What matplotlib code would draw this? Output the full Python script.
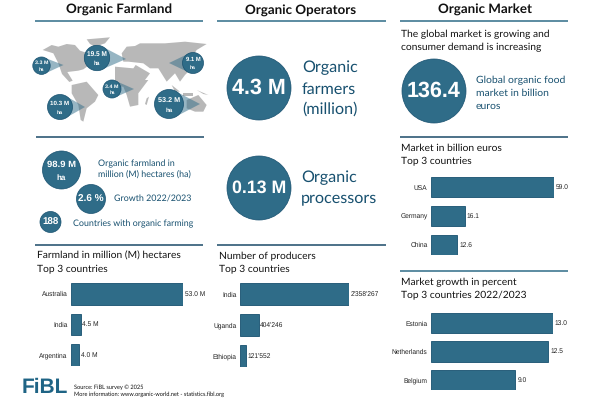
import matplotlib
matplotlib.use('Agg')
import matplotlib.pyplot as plt
from matplotlib.patches import Circle, Polygon

plt.rcParams['text.hinting'] = 'no_hinting'

TEAL = '#2f6c88'
DARK = '#17506f'
RULE = '#1b4a68'
GILL = 'Lato'
HELV = 'Liberation Sans'

# bar chart data
farm_countries = ['Australia', 'India', 'Argentina']
farm_values = [53.0, 4.5, 4.0]
farm_labels = ['53.0 M', '4.5 M', '4.0 M']

prod_countries = ['India', 'Uganda', 'Ethiopia']
prod_values = [2358267, 404246, 121552]
prod_labels = ["2'358'267", "404'246", "121'552"]

market_countries = ['USA', 'Germany', 'China']
market_values = [59.0, 16.1, 12.6]
market_labels = ['59.0', '16.1', '12.6']

growth_countries = ['Estonia', 'Netherlands', 'Belgium']
growth_values = [13.0, 12.5, 9.0]
growth_labels = ['13.0', '12.5', '9.0']

fig = plt.figure(figsize=(6, 4), dpi=100)
bg = fig.add_axes([0, 0, 1, 1])
bg.set_xlim(0, 600)
bg.set_ylim(400, 0)
bg.axis('off')


def rule(x0, x1, y, color=RULE):
    bg.plot([x0, x1], [y, y], color=color, lw=1.1, solid_capstyle='butt')


def bubble(x, y, r, lines, size):
    bg.add_patch(Circle((x, y), r, fc=TEAL, ec=DARK, lw=0.5, zorder=5))
    if len(lines) == 1:
        bg.text(x, y, lines[0], color='white', fontsize=size, fontweight='bold',
                family=HELV, ha='center', va='center', zorder=6)
    else:
        bg.text(x, y - r * 0.3, lines[0], color='white', fontsize=size, fontweight='bold',
                family=HELV, ha='center', va='center', zorder=6)
        bg.text(x, y + r * 0.42, lines[1], color='white', fontsize=size * 0.85, fontweight='bold',
                family=HELV, ha='center', va='center', zorder=6)


def label(x, y, s, size, color=DARK, **kw):
    bg.text(x, y, s, fontsize=size, color=color, family=GILL, va='center', **kw)


# headers
for cx, title in [(119, 'Organic Farmland'), (301, 'Organic Operators'), (485, 'Organic Market')]:
    bg.text(cx, 10, title, fontsize=9.6, fontweight='bold', family=GILL, color='#111111',
            ha='center', va='center')

for x0, x1 in [(35, 203), (217, 386), (400, 568)]:
    rule(x0, x1, 20.5, TEAL)
rule(36, 204, 136.5)
rule(35, 203, 245)
rule(217, 386, 245)
rule(400, 568, 136.5)
rule(400, 568, 271, TEAL)

# world map, hand traced outlines: west half and east half
west_shapes = [
    [(38, 60), (65, 45), (85, 50), (110, 42), (135, 45), (150, 62), (190, 75), (185, 100), (160, 118),
     (145, 122), (112, 126), (128, 152), (118, 156), (96, 132), (85, 100), (70, 70)],
    [(170, 28), (240, 22), (225, 40), (195, 50), (180, 42)],
    [(125, 165), (170, 155), (205, 195), (195, 215), (170, 235), (160, 275), (152, 270), (145, 225), (125, 190)],
]
east_shapes = [
    [(20, 70), (35, 50), (60, 48), (75, 40), (150, 40), (210, 35), (275, 42), (245, 60), (235, 75), (225, 120),
     (210, 135), (195, 155), (180, 130), (155, 155), (130, 115), (105, 115), (85, 100), (40, 95), (25, 95)],
    [(0, 110), (55, 115), (62, 105), (105, 130), (90, 150), (100, 150), (70, 190), (70, 225), (45, 230),
     (35, 195), (25, 170), (0, 170)],
    [(215, 210), (250, 195), (275, 225), (265, 245), (240, 245), (215, 235)],
    [(95, 205), (102, 200), (95, 225), (90, 222)],
    [(170, 165), (195, 185), (180, 185)],
    [(205, 190), (235, 190), (235, 197), (205, 197)],
    [(245, 180), (280, 195), (265, 192)],
]
for shape in west_shapes:
    bg.add_patch(Polygon([(30 + px / 3, 30 + py / 3) for px, py in shape], fc='#b8b8b8', ec='none', zorder=1))
for shape in east_shapes:
    bg.add_patch(Polygon([(115 + px / 3, 30 + py / 3) for px, py in shape], fc='#b8b8b8', ec='none', zorder=1))

# callouts
callouts = [
    (41.5, 65.7, 8.7, 63.5, 65, ['3.3 M', 'ha'], 3.9),
    (97, 58, 12.7, 126, 59, ['19.5 M', 'ha'], 4.7),
    (193, 63, 10.5, 169, 63, ['9.1 M', 'ha'], 4.2),
    (112, 89, 9, 134, 89, ['3.4 M', 'ha'], 3.9),
    (60, 107, 12.5, 85, 107, ['10.3 M', 'ha'], 4.5),
    (169, 104, 14.5, 200, 104, ['53.2 M', 'ha'], 5.2),
]
for cx, cy, r, tx, ty, txt, sz in callouts:
    sign = 1 if tx > cx else -1
    bg.add_patch(Polygon([(cx + sign * r * 0.45, cy - r * 0.88), (tx, ty), (cx + sign * r * 0.45, cy + r * 0.88)],
                         fc=TEAL, ec='none', alpha=0.5, zorder=3))
    bubble(cx, cy, r, txt, sz)

# stats of the left column
bubble(61.5, 170, 19, ['98.9 M', 'ha'], 6.8)
bubble(91, 199, 14.5, ['2.6 %'], 7.2)
bubble(50.5, 222, 10.5, ['188'], 7.0)
label(97.5, 164, 'Organic farmland in', 6.4)
label(97.5, 175, 'million (M) hectares (ha)', 6.4)
label(114, 199, 'Growth 2022/2023', 6.4)
label(73, 224, 'Countries with organic farming', 6.4)

# operators
bubble(259, 88, 32, ['4.3 M'], 15.5)
bubble(259, 188, 32, ['0.13 M'], 12.8)
for y, s in [(68, 'Organic'), (89, 'farmers'), (109, '(million)')]:
    label(302, y, s, 11.6)
for y, s in [(178, 'Organic'), (199, 'processors')]:
    label(301, y, s, 11.6)

# market
label(401, 34, 'The global market is growing and', 7.35, color='#111111')
label(401, 47, 'consumer demand is increasing', 7.35, color='#111111')
bubble(434, 91, 32, ['136.4'], 15.5)
for y, s in [(80, 'Global organic food'), (93, 'market in billion'), (106, 'euros')]:
    label(476, y, s, 7.5)

# bar chart titles
for x, y, s in [(37, 256, 'Farmland in million (M) hectares'), (37, 269, 'Top 3 countries'),
                (219, 256, 'Number of producers'), (219, 269, 'Top 3 countries'),
                (401, 148, 'Market in billion euros'), (401, 161, 'Top 3 countries'),
                (401, 282, 'Market growth in percent'), (401, 295, 'Top 3 countries 2022/2023')]:
    label(x, y, s, 7.35, color='#111111')


def bars(x0, x1, y0, y1, names, values, texts):
    ax = fig.add_axes([x0 / 600, 1 - y1 / 400, (x1 - x0) / 600, (y1 - y0) / 400])
    ax.patch.set_alpha(0)
    ax.barh(range(3), values, height=0.71, color=TEAL, edgecolor=DARK, linewidth=0.6)
    ax.set_xlim(0, max(values))
    ax.set_ylim(2.355, -0.355)
    ax.set_yticks(range(3))
    ax.set_yticklabels(names, fontsize=4.8, family=HELV, color='#222222')
    ax.tick_params(axis='y', length=0, pad=2.5)
    ax.set_xticks([])
    for s in ax.spines.values():
        s.set_visible(False)
    for i, v in enumerate(values):
        ax.text(v + max(values) * 0.015, i, texts[i], fontsize=4.8, family=HELV, color='#222222',
                va='center', clip_on=False)


bars(71, 183, 283, 366, farm_countries, farm_values, farm_labels)
bars(240, 349, 283, 367, prod_countries, prod_values, prod_labels)
bars(431, 554, 177, 255, market_countries, market_values, market_labels)
bars(431, 553, 313, 390, growth_countries, growth_values, growth_labels)

# logo and source
bg.text(22, 388, 'FiBL', fontsize=15, fontweight='bold', family=HELV, color='#1f6485', va='center')
label(74, 387, 'Source: FiBL survey © 2025', 4.1, color='#111111')
label(74, 394.5, 'More information: www.organic-world.net - statistics.fibl.org', 4.1, color='#111111')

fig.savefig('out.png', dpi=100)
